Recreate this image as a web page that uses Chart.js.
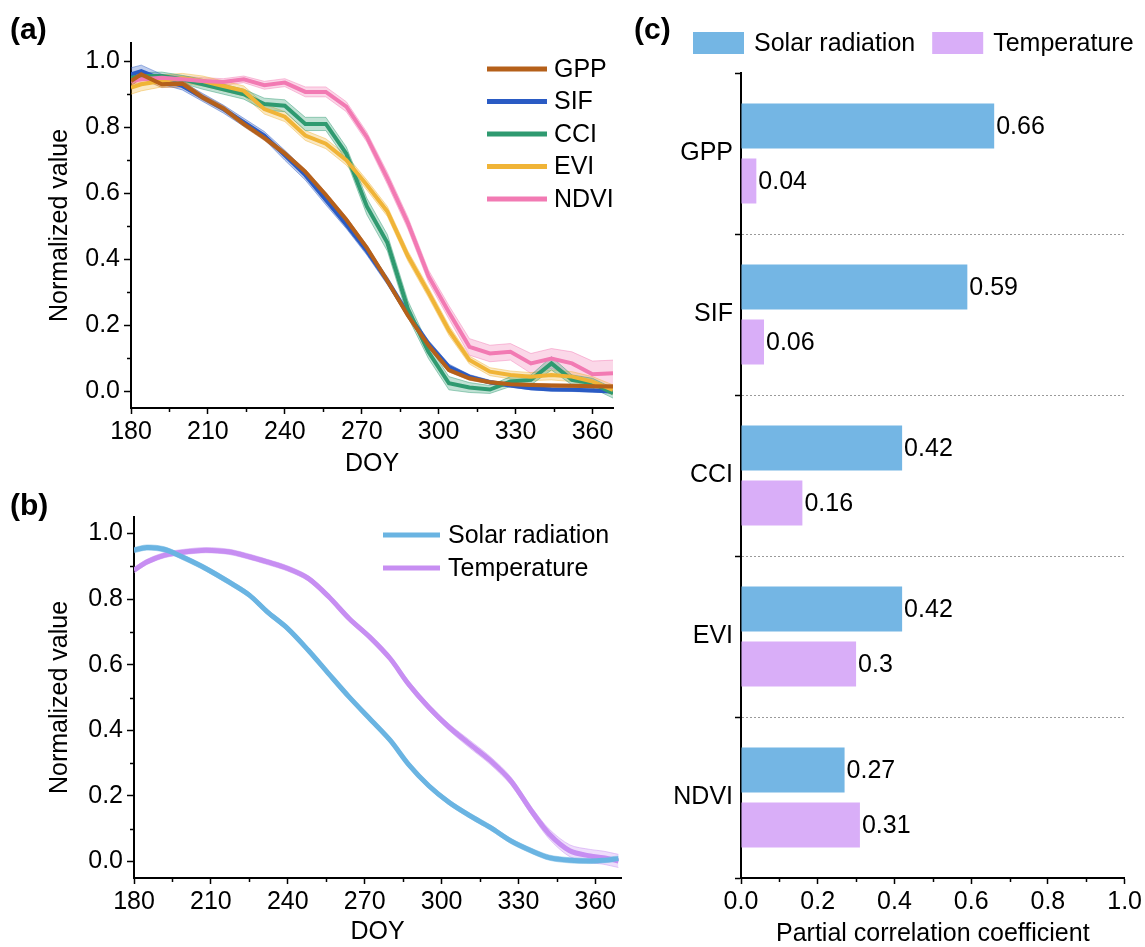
<!DOCTYPE html>
<html>
<head>
<meta charset="utf-8">
<script src="https://cdn.jsdelivr.net/npm/chart.js@4.4.0/dist/chart.umd.min.js"></script>
<style>
  body { margin: 0; background: #fff; }
  #wrap { position: relative; width: 1145px; height: 947px; overflow: hidden; font-family: 'Liberation Sans', Arial, sans-serif; }
  canvas { position: absolute; }
  .tag { position: absolute; font-weight: bold; font-size: 30px; line-height: 30px; color: #000; }
</style>
</head>
<body>
<div id="wrap">
  <canvas id="chartA" width="640" height="485" style="left:0;top:0;width:640px;height:485px"></canvas>
  <canvas id="chartB" width="640" height="462" style="left:0;top:485px;width:640px;height:462px"></canvas>
  <canvas id="chartC" width="505" height="947" style="left:640px;top:0;width:505px;height:947px"></canvas>
  <div class="tag" style="left:10px;top:14px">(a)</div>
  <div class="tag" style="left:10px;top:490px">(b)</div>
  <div class="tag" style="left:634px;top:14px">(c)</div>
</div>
<script>
// ---- panel (a): vegetation indices, 8-day composites
const doyA = [180, 184, 192, 200, 208, 216, 224, 232, 240, 248, 256, 264, 272, 280, 288, 296, 304, 312, 320, 328, 336, 344, 352, 360, 368];
const gpp  = [0.94, 0.96, 0.93, 0.932, 0.89, 0.857, 0.81, 0.768, 0.72, 0.665, 0.595, 0.52, 0.435, 0.335, 0.23, 0.14, 0.065, 0.04, 0.028, 0.022, 0.02, 0.018, 0.017, 0.016, 0.015];
const sif  = [0.96, 0.97, 0.945, 0.925, 0.89, 0.855, 0.815, 0.775, 0.715, 0.655, 0.58, 0.505, 0.425, 0.335, 0.235, 0.145, 0.075, 0.045, 0.028, 0.018, 0.01, 0.006, 0.005, 0.003, 0.0];
const cci  = [0.95, 0.955, 0.955, 0.945, 0.93, 0.915, 0.90, 0.87, 0.865, 0.81, 0.81, 0.72, 0.56, 0.45, 0.25, 0.12, 0.025, 0.012, 0.006, 0.03, 0.035, 0.085, 0.035, 0.025, -0.005];
const evi  = [0.92, 0.93, 0.94, 0.948, 0.94, 0.925, 0.91, 0.855, 0.832, 0.775, 0.75, 0.70, 0.625, 0.545, 0.41, 0.30, 0.185, 0.095, 0.06, 0.05, 0.045, 0.05, 0.045, 0.03, 0.005];
const ndvi = [0.94, 0.945, 0.95, 0.945, 0.94, 0.937, 0.945, 0.927, 0.935, 0.907, 0.907, 0.862, 0.77, 0.645, 0.51, 0.35, 0.24, 0.135, 0.115, 0.12, 0.085, 0.10, 0.085, 0.052, 0.055];
// half width of the shaded bands
const gppErr  = [0.015, 0.012, 0.01, 0.01, 0.008, 0.008, 0.008, 0.008, 0.008, 0.008, 0.008, 0.008, 0.008, 0.008, 0.008, 0.008, 0.006, 0.006, 0.005, 0.005, 0.005, 0.005, 0.005, 0.005, 0.005];
const sifErr  = [0.02, 0.018, 0.015, 0.012, 0.012, 0.012, 0.012, 0.012, 0.015, 0.015, 0.015, 0.012, 0.012, 0.012, 0.01, 0.01, 0.008, 0.006, 0.006, 0.005, 0.005, 0.005, 0.005, 0.005, 0.005];
const cciErr  = [0.01, 0.01, 0.012, 0.012, 0.015, 0.015, 0.015, 0.018, 0.018, 0.02, 0.02, 0.02, 0.025, 0.025, 0.025, 0.02, 0.02, 0.015, 0.012, 0.015, 0.015, 0.02, 0.015, 0.015, 0.015];
const eviErr  = [0.02, 0.02, 0.018, 0.015, 0.015, 0.015, 0.015, 0.015, 0.015, 0.015, 0.015, 0.015, 0.015, 0.015, 0.015, 0.015, 0.015, 0.012, 0.012, 0.012, 0.012, 0.015, 0.015, 0.015, 0.015];
const ndviErr = [0.01, 0.01, 0.01, 0.01, 0.01, 0.01, 0.01, 0.012, 0.012, 0.015, 0.015, 0.015, 0.015, 0.018, 0.018, 0.018, 0.02, 0.025, 0.025, 0.025, 0.03, 0.03, 0.035, 0.04, 0.04];

// ---- panel (b): climate drivers
const doyB     = [180, 185, 192, 200, 208, 217, 225, 232, 240, 248, 256, 264, 272, 280, 287, 295, 303, 311, 319, 327, 335, 342, 350, 358, 363, 369];
const solar    = [0.949, 0.957, 0.951, 0.924, 0.893, 0.852, 0.812, 0.761, 0.71, 0.644, 0.572, 0.501, 0.435, 0.369, 0.297, 0.231, 0.18, 0.14, 0.104, 0.063, 0.033, 0.012, 0.004, 0.002, 0.004, 0.009];
const temp     = [0.888, 0.913, 0.934, 0.944, 0.949, 0.944, 0.929, 0.913, 0.893, 0.863, 0.807, 0.74, 0.684, 0.618, 0.542, 0.47, 0.409, 0.358, 0.308, 0.246, 0.155, 0.084, 0.033, 0.017, 0.012, 0.002];
const solarErr = [0.008, 0.008, 0.008, 0.008, 0.008, 0.008, 0.008, 0.008, 0.008, 0.008, 0.008, 0.008, 0.008, 0.008, 0.008, 0.008, 0.008, 0.008, 0.008, 0.008, 0.008, 0.008, 0.008, 0.008, 0.008, 0.008];
const tempErr  = [0.008, 0.008, 0.008, 0.008, 0.008, 0.008, 0.008, 0.008, 0.008, 0.008, 0.008, 0.008, 0.008, 0.008, 0.01, 0.01, 0.01, 0.012, 0.012, 0.012, 0.012, 0.015, 0.018, 0.02, 0.02, 0.02];

// ---- panel (c): partial correlation
const pcLabels = ['GPP', 'SIF', 'CCI', 'EVI', 'NDVI'];
const pcSolar  = [0.66, 0.59, 0.42, 0.42, 0.27];
const pcTemp   = [0.04, 0.06, 0.16, 0.3, 0.31];

// ticks (major ones get labels, the rest are drawn short)
const doyTicks  = [180, 210, 240, 270, 300, 330, 360];
const doyMinor  = [195, 225, 255, 285, 315, 345];
const normTicks = [0, 0.2, 0.4, 0.6, 0.8, 1.0];
const normMinor = [0.1, 0.3, 0.5, 0.7, 0.9];
const coefTicks = [0, 0.2, 0.4, 0.6, 0.8, 1.0];
const coefMinor = [0.1, 0.3, 0.5, 0.7, 0.9];

const FONT = "'Liberation Sans', Arial, sans-serif";
Chart.defaults.font.family = FONT;
Chart.defaults.font.size = 25;
Chart.defaults.color = '#000';
Chart.defaults.animation = false;

const rgba = (hex, a) => {
  const n = parseInt(hex.slice(1), 16);
  return `rgba(${n >> 16},${(n >> 8) & 255},${n & 255},${a})`;
};

// three datasets per series: upper edge, lower edge (filled to upper), main line
function seriesSets(label, xs, ys, errs, color, order, width) {
  const pts = (f) => xs.map((x, i) => ({ x: x, y: f(i) }));
  const edge = { borderColor: rgba(color, 0.45), borderWidth: 1, pointRadius: 0, order: 20 };
  return [
    Object.assign({ label: label + ' upper', data: pts(i => ys[i] + errs[i]), fill: false }, edge),
    Object.assign({ label: label + ' lower', data: pts(i => ys[i] - errs[i]), fill: '-1', backgroundColor: rgba(color, 0.3) }, edge),
    { label: label, data: pts(i => ys[i]), borderColor: color, borderWidth: width, pointRadius: 0, fill: false, order: order }
  ];
}

function doyAxis(max, h, pb) {
  return {
    type: 'linear', min: 180, max: max,
    afterBuildTicks: s => { s.ticks = doyTicks.map(v => ({ value: v })); },
    afterFit: s => { s.height = h; },
    ticks: { autoSkip: false, maxRotation: 0, padding: 3, callback: v => String(v) },
    grid: { drawOnChartArea: false, drawTicks: true, tickLength: 6, tickColor: '#000', tickWidth: 1.5 },
    border: { color: '#000', width: 2 },
    title: { display: true, text: 'DOY', padding: { top: 0, bottom: pb } }
  };
}

function normAxis(min, max, w) {
  return {
    min: min, max: max,
    afterBuildTicks: s => { s.ticks = normTicks.map(v => ({ value: v })); },
    afterFit: s => { s.width = w; },
    ticks: { autoSkip: false, padding: 4, callback: v => v.toFixed(1) },
    grid: { drawOnChartArea: false, drawTicks: true, tickLength: 7, tickColor: '#000', tickWidth: 1.5 },
    border: { color: '#000', width: 2 },
    title: { display: true, text: 'Normalized value', padding: { top: 45, bottom: 0 } }
  };
}

// short unlabeled ticks between the labelled ones
const minorTicks = {
  id: 'minorTicks',
  afterDraw(chart, args, o) {
    if (!o || !o.axes) return;
    const ctx = chart.ctx;
    ctx.save();
    ctx.strokeStyle = '#000';
    ctx.lineWidth = 1.5;
    o.axes.forEach(a => {
      const s = chart.scales[a.id];
      a.values.forEach(v => {
        const p = Math.round(s.getPixelForValue(v)) + 0.5;
        ctx.beginPath();
        if (s.isHorizontal()) { ctx.moveTo(p, s.top); ctx.lineTo(p, s.top + a.len); }
        else { ctx.moveTo(s.right, p); ctx.lineTo(s.right - a.len, p); }
        ctx.stroke();
      });
    });
    ctx.restore();
  }
};

const insideLegend = {
  id: 'insideLegend',
  afterDraw(chart, args, o) {
    if (!o || !o.labels) return;
    const ctx = chart.ctx, area = chart.chartArea;
    ctx.save();
    ctx.font = '25px ' + FONT;
    ctx.textBaseline = 'middle';
    ctx.textAlign = 'left';
    if (o.kind === 'box') {
      let x = o.x;
      o.labels.forEach((lab, i) => {
        ctx.fillStyle = o.colors[i];
        ctx.fillRect(x, o.y, o.boxW, o.boxH);
        ctx.fillStyle = '#000';
        ctx.fillText(lab, x + o.boxW + o.textGap, o.y + o.boxH / 2 + 1);
        x += o.boxW + o.textGap + ctx.measureText(lab).width + o.itemGap;
      });
    } else {
      o.labels.forEach((lab, i) => {
        const x = area.left + o.x, y = area.top + o.y + i * o.gap;
        ctx.strokeStyle = o.colors[i];
        ctx.lineWidth = o.lineWidth;
        ctx.beginPath();
        ctx.moveTo(x, y);
        ctx.lineTo(x + o.len, y);
        ctx.stroke();
        ctx.fillStyle = '#000';
        ctx.fillText(lab, x + o.len + o.textGap, y + 1);
      });
    }
    ctx.restore();
  }
};

const barValues = {
  id: 'barValues',
  afterDatasetsDraw(chart) {
    const ctx = chart.ctx;
    ctx.save();
    ctx.font = '25px ' + FONT;
    ctx.fillStyle = '#000';
    ctx.textAlign = 'left';
    ctx.textBaseline = 'middle';
    chart.data.datasets.forEach((ds, di) => {
      chart.getDatasetMeta(di).data.forEach((bar, i) => {
        ctx.fillText(String(ds.data[i]), bar.x + 2, bar.y + 1);
      });
    });
    ctx.restore();
  }
};

// ---------- (a)
const namesA  = ['GPP', 'SIF', 'CCI', 'EVI', 'NDVI'];
const colorsA = ['#b5601a', '#2a5bc4', '#2f9a70', '#f0b437', '#f27ab3'];
const valsA   = [gpp, sif, cci, evi, ndvi];
const errsA   = [gppErr, sifErr, cciErr, eviErr, ndviErr];
const orderA  = [0, 4, 3, 2, 1];
let setsA = [];
namesA.forEach((n, i) => { setsA = setsA.concat(seriesSets(n, doyA, valsA[i], errsA[i], colorsA[i], orderA[i], 4)); });

new Chart(document.getElementById('chartA'), {
  type: 'line',
  data: { datasets: setsA },
  options: {
    responsive: false,
    layout: { padding: { left: 0, top: 43, right: 27, bottom: 0 } },
    plugins: {
      legend: { display: false },
      tooltip: { enabled: false },
      insideLegend: { kind: 'line', labels: namesA, colors: colorsA, x: 356, y: 26, gap: 32.5, len: 60, textGap: 7, lineWidth: 5 },
      minorTicks: { axes: [{ id: 'x', values: doyMinor, len: 4 }, { id: 'y', values: normMinor, len: 4 }] }
    },
    scales: {
      x: doyAxis(368, 77, 6),
      y: normAxis(-0.05, 1.055, 131)
    }
  },
  plugins: [insideLegend, minorTicks]
});

// ---------- (b)
const namesB  = ['Solar radiation', 'Temperature'];
const colorsB = ['#6ab4e2', '#c78ef2'];
const setsB = seriesSets(namesB[0], doyB, solar, solarErr, colorsB[0], 0, 5)
  .concat(seriesSets(namesB[1], doyB, temp, tempErr, colorsB[1], 1, 5));
setsB.forEach(d => { d.tension = 0.3; });

new Chart(document.getElementById('chartB'), {
  type: 'line',
  data: { datasets: setsB },
  options: {
    responsive: false,
    layout: { padding: { left: 0, top: 32, right: 19, bottom: 0 } },
    plugins: {
      legend: { display: false },
      tooltip: { enabled: false },
      insideLegend: { kind: 'line', labels: namesB, colors: colorsB, x: 249, y: 18, gap: 33, len: 57, textGap: 8, lineWidth: 5 },
      minorTicks: { axes: [{ id: 'x', values: doyMinor, len: 4 }, { id: 'y', values: normMinor, len: 4 }] }
    },
    scales: {
      x: doyAxis(370, 69, 0),
      y: normAxis(-0.05, 1.05, 134)
    }
  },
  plugins: [insideLegend, minorTicks]
});

// ---------- (c)
const colorsC = ['#74b6e4', '#d9aef8'];
new Chart(document.getElementById('chartC'), {
  type: 'bar',
  data: {
    labels: pcLabels,
    datasets: [
      { label: 'Solar radiation', data: pcSolar, backgroundColor: colorsC[0], categoryPercentage: 0.683, barPercentage: 0.818 },
      { label: 'Temperature', data: pcTemp, backgroundColor: colorsC[1], categoryPercentage: 0.683, barPercentage: 0.818 }
    ]
  },
  options: {
    indexAxis: 'y',
    responsive: false,
    layout: { padding: { left: 0, top: 73, right: 20, bottom: 0 } },
    plugins: {
      legend: { display: false },
      tooltip: { enabled: false },
      insideLegend: { kind: 'box', labels: ['Solar radiation', 'Temperature'], colors: colorsC, x: 53, y: 32, boxW: 51, boxH: 22, textGap: 10, itemGap: 17 },
      minorTicks: { axes: [{ id: 'x', values: coefMinor, len: 4 }] }
    },
    scales: {
      x: {
        min: 0, max: 1,
        afterBuildTicks: s => { s.ticks = coefTicks.map(v => ({ value: v })); },
        afterFit: s => { s.height = 69; },
        ticks: { autoSkip: false, maxRotation: 0, padding: 3, callback: v => v.toFixed(1) },
        grid: { drawOnChartArea: false, drawTicks: true, tickLength: 6, tickColor: '#000', tickWidth: 1.5 },
        border: { color: '#000', width: 2 },
        title: { display: true, text: 'Partial correlation coefficient', padding: { top: 0, bottom: -2 } }
      },
      y: {
        afterFit: s => { s.width = 101; },
        ticks: { padding: 2 },
        grid: {
          drawOnChartArea: true, drawTicks: true, tickLength: 6, tickColor: '#000', tickWidth: 1.5, lineWidth: 1,
          color: c => (c.index === 0 || c.index === pcLabels.length ? 'rgba(0,0,0,0)' : '#9a9a9a')
        },
        border: { color: '#000', width: 2, dash: [2, 2] }
      }
    }
  },
  plugins: [insideLegend, barValues, minorTicks]
});
</script>
</body>
</html>
